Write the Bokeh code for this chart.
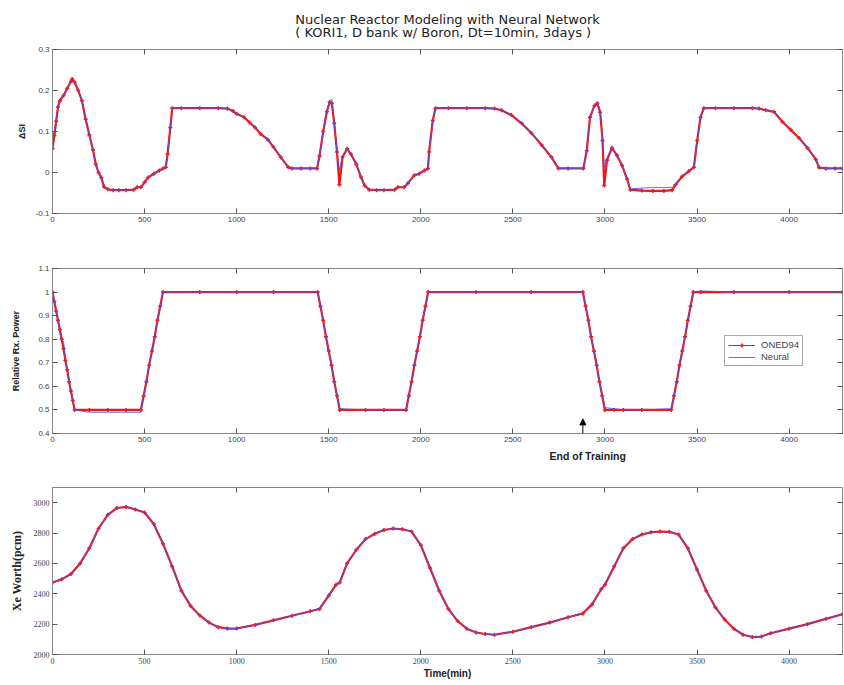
from bokeh.plotting import figure
from bokeh.layouts import column
from bokeh.models import (Range1d, FixedTicker, LinearAxis, Title, Legend, LegendItem,
                          Arrow, NormalHead)
from bokeh.embed import file_html
from bokeh.resources import INLINE

# ---------------- data ----------------
title_line1 = "Nuclear Reactor Modeling with Neural Network"
title_line2 = "( KORI1, D bank w/ Boron, Dt=10min, 3days )"
end_of_training = 2880

x_ticks = [0, 500, 1000, 1500, 2000, 2500, 3000, 3500, 4000]

# Delta SI
asi_t = [0, 10, 20, 30, 40, 60, 80, 100, 107, 120, 140, 160, 180, 200, 220, 235, 250, 265, 280, 300,
         330, 360, 400, 440, 460, 480, 500, 520, 550, 580, 600, 615, 625, 640, 650, 700, 800, 900, 950, 980,
         1000, 1040, 1070, 1100, 1130, 1170, 1200, 1240, 1280, 1300, 1350, 1400, 1437, 1450, 1470, 1490, 1505, 1517, 1530, 1545,
         1558, 1575, 1600, 1620, 1650, 1675, 1695, 1720, 1760, 1800, 1858, 1875, 1910, 1930, 1965, 1990, 2020, 2039, 2045, 2065,
         2080, 2150, 2250, 2350, 2400, 2438, 2492, 2547, 2601, 2656, 2710, 2747, 2800, 2883, 2901, 2919, 2943, 2959, 2974, 2987,
         2996, 3011, 3038, 3065, 3093, 3120, 3138, 3200, 3260, 3320, 3365, 3383, 3419, 3455, 3483, 3501, 3519, 3537, 3600, 3700,
         3800, 3837, 3873, 3918, 3964, 4009, 4054, 4100, 4145, 4163, 4200, 4250, 4290]
asi_oned = [0.058, 0.09, 0.125, 0.16, 0.175, 0.188, 0.205, 0.222, 0.228, 0.22, 0.2, 0.175, 0.13, 0.092, 0.055, 0.02, 0.0, -0.012, -0.035, -0.041,
            -0.043, -0.043, -0.043, -0.042, -0.036, -0.036, -0.024, -0.012, -0.003, 0.005, 0.01, 0.013, 0.045, 0.11, 0.157, 0.157, 0.157, 0.157, 0.156, 0.15,
            0.143, 0.135, 0.122, 0.11, 0.094, 0.08, 0.062, 0.037, 0.013, 0.01, 0.01, 0.01, 0.01, 0.04, 0.1, 0.148, 0.172, 0.168, 0.12, 0.05,
            -0.03, 0.038, 0.058, 0.045, 0.02, -0.011, -0.032, -0.042, -0.043, -0.043, -0.042, -0.036, -0.036, -0.026, -0.007, -0.003, 0.005, 0.01, 0.05, 0.127,
            0.157, 0.157, 0.157, 0.157, 0.156, 0.152, 0.14, 0.12, 0.096, 0.067, 0.037, 0.01, 0.01, 0.01, 0.053, 0.135, 0.163, 0.169, 0.147, 0.078,
            -0.032, 0.03, 0.06, 0.042, 0.017, -0.016, -0.042, -0.044, -0.045, -0.045, -0.043, -0.03, -0.01, 0.003, 0.013, 0.078, 0.135, 0.157, 0.157, 0.157,
            0.157, 0.156, 0.152, 0.148, 0.124, 0.104, 0.084, 0.06, 0.032, 0.012, 0.01, 0.01, 0.01]
asi_neural = [0.09, 0.1, 0.13, 0.16, 0.175, 0.188, 0.205, 0.222, 0.228, 0.22, 0.2, 0.175, 0.13, 0.092, 0.055, 0.02, 0.0, -0.012, -0.035, -0.041,
              -0.043, -0.043, -0.043, -0.042, -0.036, -0.036, -0.024, -0.012, -0.003, 0.005, 0.01, 0.013, 0.045, 0.11, 0.157, 0.157, 0.157, 0.157, 0.156, 0.15,
              0.143, 0.135, 0.122, 0.11, 0.094, 0.08, 0.062, 0.037, 0.013, 0.01, 0.01, 0.01, 0.01, 0.04, 0.1, 0.15, 0.176, 0.178, 0.125, 0.05,
              0.005, 0.04, 0.058, 0.045, 0.02, -0.011, -0.032, -0.042, -0.043, -0.043, -0.042, -0.036, -0.036, -0.026, -0.007, -0.003, 0.005, 0.01, 0.05, 0.127,
              0.157, 0.157, 0.157, 0.157, 0.156, 0.152, 0.14, 0.12, 0.096, 0.067, 0.037, 0.01, 0.01, 0.01, 0.053, 0.135, 0.163, 0.172, 0.15, 0.08,
              0.013, 0.034, 0.06, 0.042, 0.017, -0.016, -0.04, -0.038, -0.037, -0.037, -0.036, -0.028, -0.008, 0.004, 0.013, 0.078, 0.135, 0.157, 0.157, 0.157,
              0.157, 0.156, 0.152, 0.148, 0.124, 0.104, 0.084, 0.06, 0.032, 0.012, 0.01, 0.01, 0.01]
asi_ticks = [-0.1, 0, 0.1, 0.2, 0.3]
asi_labels = ["-0.1", "0", "0.1", "0.2", "0.3"]

# Relative reactor power
pw_t = [0, 10, 20, 30, 40, 50, 60, 70, 80, 90, 100, 110, 120, 200, 300, 400, 480, 495, 510, 525, 540, 555, 570, 585, 600,
        800, 1000, 1200, 1440, 1455, 1470, 1485, 1500, 1515, 1530, 1545, 1560, 1700, 1800, 1920, 1935, 1950, 1965, 1980, 1995,
        2010, 2025, 2040, 2300, 2600, 2880, 2895, 2910, 2925, 2940, 2955, 2970, 2985, 3000, 3050, 3100, 3200, 3360, 3375, 3390,
        3405, 3420, 3435, 3450, 3465, 3480, 3520, 3700, 4000, 4290]
pw_oned = [1.0, 0.96, 0.92, 0.88, 0.84, 0.8, 0.76, 0.71, 0.67, 0.62, 0.58, 0.54, 0.5, 0.5, 0.5, 0.5, 0.5, 0.56, 0.62, 0.69, 0.75, 0.81, 0.88, 0.94, 1.0,
           1.0, 1.0, 1.0, 1.0, 0.94, 0.88, 0.81, 0.75, 0.69, 0.62, 0.56, 0.5, 0.5, 0.5, 0.5, 0.56, 0.62, 0.69, 0.75, 0.81,
           0.88, 0.94, 1.0, 1.0, 1.0, 1.0, 0.94, 0.88, 0.81, 0.75, 0.69, 0.62, 0.56, 0.5, 0.5, 0.5, 0.5, 0.5, 0.56, 0.62,
           0.69, 0.75, 0.81, 0.88, 0.94, 1.0, 1.0, 1.0, 1.0, 1.0]
pw_neural = [1.0, 0.96, 0.92, 0.88, 0.83, 0.8, 0.79, 0.72, 0.67, 0.62, 0.58, 0.54, 0.5, 0.49, 0.49, 0.49, 0.49, 0.56, 0.62, 0.69, 0.75, 0.81, 0.88, 0.94, 1.0,
             1.0, 1.0, 1.0, 1.0, 0.94, 0.88, 0.81, 0.75, 0.69, 0.62, 0.56, 0.505, 0.5, 0.5, 0.5, 0.56, 0.62, 0.69, 0.75, 0.81,
             0.88, 0.94, 1.0, 1.0, 1.0, 1.0, 0.94, 0.88, 0.81, 0.75, 0.69, 0.62, 0.56, 0.51, 0.505, 0.5, 0.5, 0.505, 0.56, 0.62,
             0.69, 0.75, 0.81, 0.88, 0.94, 1.0, 1.005, 1.0, 1.0, 1.0]
pw_ticks = [0.4, 0.5, 0.6, 0.7, 0.8, 0.9, 1.0, 1.1]
pw_labels = ["0.4", "0.5", "0.6", "0.7", "0.8", "0.9", "1", "1.1"]

# Xe worth (pcm)
xe_t = [0, 50, 100, 150, 200, 250, 300, 350, 400, 450, 500, 550, 600, 650, 700, 750, 800, 850, 900, 950,
        1000, 1100, 1200, 1300, 1400, 1450, 1500, 1540, 1560, 1600, 1650, 1700, 1750, 1800, 1850, 1900, 1950, 2000, 2050, 2100,
        2150, 2200, 2250, 2300, 2350, 2400, 2500, 2600, 2700, 2800, 2880, 2930, 2980, 3000, 3050, 3100, 3150, 3200, 3250, 3300,
        3350, 3400, 3450, 3500, 3550, 3600, 3650, 3700, 3750, 3800, 3850, 3900, 4000, 4100, 4200, 4290]
xe_oned = [2474, 2495, 2530, 2600, 2700, 2830, 2920, 2965, 2972, 2955, 2935, 2860, 2730, 2580, 2420, 2320, 2257, 2210, 2180, 2171,
           2171, 2195, 2225, 2255, 2285, 2300, 2388, 2460, 2475, 2600, 2690, 2760, 2795, 2820, 2830, 2825, 2810, 2720, 2570, 2420,
           2300, 2220, 2170, 2145, 2135, 2130, 2150, 2180, 2210, 2245, 2270, 2330, 2430, 2460, 2580, 2700, 2760, 2790, 2805, 2810,
           2808, 2790, 2700, 2560, 2420, 2310, 2230, 2170, 2130, 2115, 2118, 2140, 2170, 2200, 2235, 2265]
xe_neural = [2474, 2495, 2530, 2600, 2700, 2830, 2920, 2965, 2972, 2955, 2935, 2860, 2730, 2580, 2420, 2320, 2257, 2210, 2180, 2171,
             2171, 2195, 2225, 2255, 2285, 2305, 2395, 2455, 2480, 2600, 2690, 2760, 2795, 2820, 2830, 2825, 2810, 2720, 2570, 2420,
             2300, 2220, 2170, 2145, 2135, 2130, 2150, 2180, 2210, 2245, 2275, 2335, 2425, 2465, 2580, 2700, 2760, 2790, 2805, 2810,
             2808, 2790, 2700, 2560, 2420, 2310, 2230, 2170, 2130, 2115, 2118, 2140, 2170, 2200, 2235, 2265]
xe_ticks = [2000, 2200, 2400, 2600, 2800, 3000]

# ---------------- styling ----------------
FONT = "Liberation Sans"
SERIF = "Liberation Serif"
RED = "#f01818"
BLUE = "#5050f0"
x_range = Range1d(0, 4290)


def blank_axis(ticks):
    return LinearAxis(ticker=FixedTicker(ticks=ticks), major_tick_in=5, major_tick_out=0,
                      major_label_overrides={t: "" for t in ticks}, axis_line_color=None,
                      minor_tick_line_color=None, major_tick_line_color="#555555",
                      major_label_standoff=0, major_label_text_font_size="8px")


def make_fig(height, top, bottom, y_range, y_ticks, y_labels, ylabel, ylabel_standoff,
             tick_font=FONT, ylabel_font=FONT, ylabel_size="9px", ylabel_style="bold"):
    p = figure(width=843, height=height, x_range=x_range, y_range=y_range,
               output_backend="svg", toolbar_location=None,
               min_border_left=52, min_border_right=1, min_border_top=top, min_border_bottom=bottom)
    p.grid.visible = False
    p.outline_line_color = "#888888"
    p.outline_line_width = 1
    p.background_fill_color = "white"
    p.border_fill_color = "white"
    xa = p.below[0]
    ya = p.left[0]
    xa.ticker = FixedTicker(ticks=x_ticks)
    ya.ticker = FixedTicker(ticks=y_ticks)
    if y_labels is not None:
        ya.major_label_overrides = {t: l for t, l in zip(y_ticks, y_labels)}
    for ax in (xa, ya):
        ax.axis_line_color = "#888888"
        ax.major_tick_in = 5
        ax.major_tick_out = 0
        ax.minor_tick_line_color = None
        ax.major_tick_line_color = "#555555"
        ax.major_label_text_font = tick_font
        ax.major_label_text_font_size = "8px"
        ax.major_label_text_color = "#444444"
        ax.major_label_standoff = 3
    ya.axis_label = ylabel
    ya.axis_label_text_font = ylabel_font
    ya.axis_label_text_font_size = ylabel_size
    ya.axis_label_text_font_style = ylabel_style
    ya.axis_label_text_color = "#222222"
    ya.axis_label_standoff = ylabel_standoff
    # box ticks on top and right (MATLAB style)
    p.add_layout(blank_axis(x_ticks), "above")
    p.add_layout(blank_axis(y_ticks), "right")
    return p, xa


def draw(p, t, oned, neural):
    p.line(t, oned, line_color=RED, line_width=2.2)
    r1 = p.line(t, oned, line_color=RED, line_width=1)
    r2 = p.scatter(t, oned, marker="cross", size=4, line_color=RED, line_width=1.5)
    r3 = p.line(t, neural, line_color=BLUE, line_width=1, line_alpha=0.85)
    return r1, r2, r3


p1, x1 = make_fig(240, 49, 27, Range1d(-0.1, 0.3), asi_ticks, asi_labels, "ΔSI", 6)
draw(p1, asi_t, asi_oned, asi_neural)
p1.add_layout(Title(text=title_line1 + "\n" + title_line2, align="center", text_font="DejaVu Sans",
                    text_font_size="13px", text_font_style="normal", text_color="#222222",
                    text_line_height=0.87, standoff=19), "above")

p2, x2 = make_fig(230, 28, 37, Range1d(0.4, 1.1), pw_ticks, pw_labels, "Relative Rx. Power", 14)
ra, rb, rc = draw(p2, pw_t, pw_oned, pw_neural)
legend = Legend(items=[LegendItem(label="ONED94", renderers=[ra, rb]),
                       LegendItem(label="Neural", renderers=[rc])],
                location=(672, 67), label_text_font=FONT, label_text_font_size="9.5px",
                label_text_color="#444444", glyph_width=27, glyph_height=10, label_height=10,
                spacing=1, padding=3, margin=0, border_line_color="#555555",
                background_fill_alpha=1.0, label_standoff=6)
p2.add_layout(legend)
p2.add_layout(Arrow(end=NormalHead(size=6, fill_color="black", line_color="black"),
                    x_start=end_of_training, y_start=0.4, x_end=end_of_training, y_end=0.462,
                    line_color="black", line_width=1))
p2.add_layout(Title(text="End of Training", align="left", offset=497, text_font=FONT,
                    text_font_size="10.5px", text_font_style="bold", text_color="#222222",
                    standoff=6), "below")

p3, x3 = make_fig(213, 17, 29, Range1d(2000, 3100), xe_ticks, None, "Xe Worth(pcm)", 7,
                  tick_font=SERIF, ylabel_font=SERIF, ylabel_size="12px", ylabel_style="bold")
draw(p3, xe_t, xe_oned, xe_neural)
x3.axis_label = "Time(min)"
x3.axis_label_text_font = FONT
x3.axis_label_text_font_size = "10px"
x3.axis_label_text_font_style = "bold"
x3.axis_label_text_color = "#222222"
x3.axis_label_standoff = 1

layout = column(p1, p2, p3, spacing=0)
open("out.html", "w").write(file_html(layout, INLINE))
